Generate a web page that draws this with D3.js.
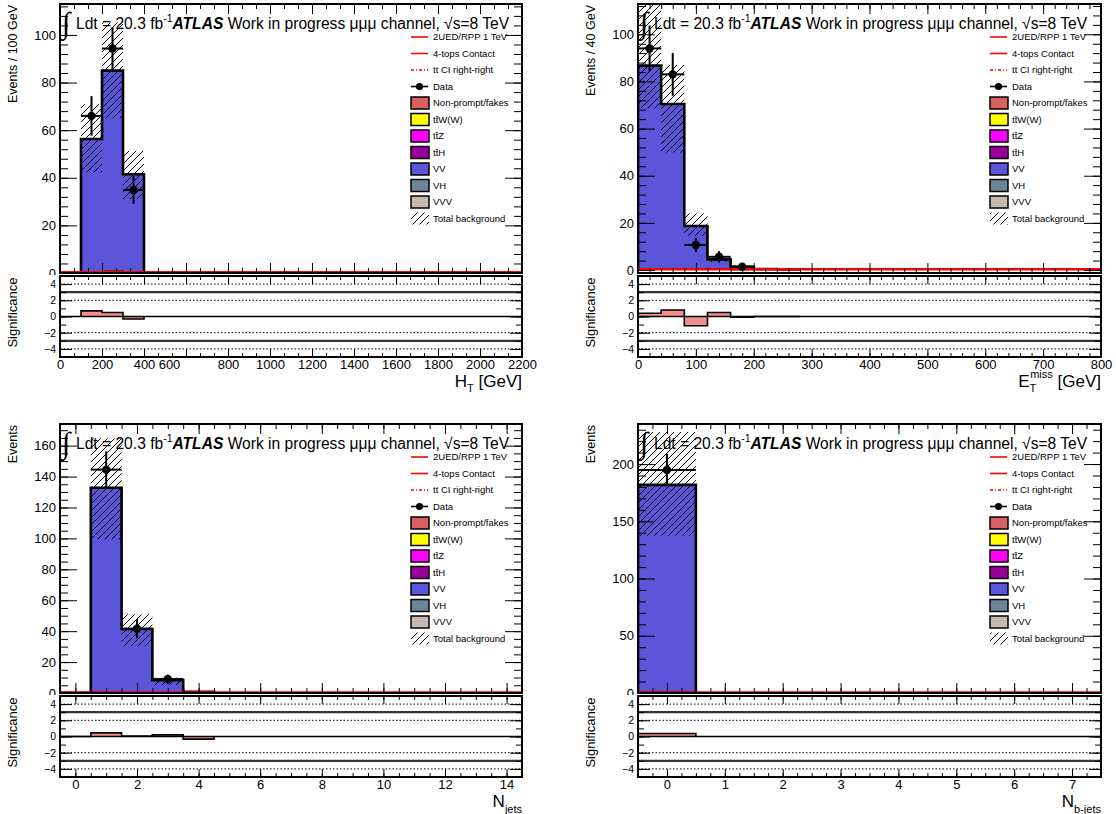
<!DOCTYPE html>
<html><head><meta charset="utf-8">
<script src="https://cdn.jsdelivr.net/npm/d3@7"></script>
<style>
body{margin:0;background:#fff}
svg{font-family:"Liberation Sans",Arial,Helvetica,sans-serif}
</style>
</head><body>
<svg id="c" width="1116" height="814"></svg>
<script>
// ---------------- DATA ----------------
// Panel 1 : H_T
const htEdges   = [100, 200, 300, 400];
const htVV      = [55.8, 83.7, 41.2];
const htFakes   = [0.5, 1.3, 0.3];
const htBandLo  = [42.3, 65, 31];
const htBandHi  = [70.9, 105.2, 51.3];
const htDataX   = [150, 250, 350];
const htData    = [66, 94.3, 34.9];
const htDataErr = [8.3, 9, 5.8];
const htSig     = [0.7, 0.5, -0.3];
const htSigEdges= [0, 2200];
const htSignal  = [0.3];
const htTicks   = [0, 200, 400, 600, 800, 1000, 1200, 1400, 1600, 1800, 2000, 2200];

// Panel 2 : E_T^miss
const metEdges   = [0, 40, 80, 120, 160, 200, 240, 280];
const metVV      = [85.8, 69.5, 18.3, 4.2, 1.2, 0.35, 0.25];
const metFakes   = [0.9, 0.9, 0.4, 0.3, 0.2, 0.1, 0.05];
const metBandLo  = [68.6, 49.8, 14.5, 3.4, 0.9, 0.2, 0.1];
const metBandHi  = [118, 87, 24, 5.6, 2, 0.7, 0.5];
const metDataX   = [20, 60, 100, 140, 180];
const metData    = [94, 83, 10.6, 5.6, 1.4];
const metDataErr = [9.7, 9.1, 3.0, 2.4, 1.2];
const metSig     = [0.4, 0.8, -1.15, 0.5, -0.1, 0, 0];
const metSigEdges= [0, 800];
const metSignal  = [0.3];
const metTicks   = [0, 100, 200, 300, 400, 500, 600, 700, 800];

// Panel 3 : N_jets
const njEdges   = [-0.5, 0.5, 1.5, 2.5, 3.5, 4.5];
const njVV      = [0.1, 131.6, 40.9, 8.0, 0.6];
const njFakes   = [0.1, 1.2, 0.5, 0.3, 0.2];
const njBandLo  = [0, 99.4, 30.4, 5.2, 0.4];
const njBandHi  = [0.3, 164.7, 50.9, 9.9, 1.5];
const njDataX   = [1, 2, 3];
const njData    = [144.5, 41.6, 9];
const njDataErr = [11.8, 6.2, 3];
const njSig     = [0, 0.45, 0.05, 0.2, -0.33];
const njSigEdges= [-0.5, 14.5];
const njSignal  = [0.3];
const njTicks   = [0, 2, 4, 6, 8, 10, 12, 14];

// Panel 4 : N_b-jets
const nbEdges   = [-0.5, 0.5];
const nbVV      = [180.3];
const nbFakes   = [1.5];
const nbBandLo  = [137.4];
const nbBandHi  = [228];
const nbDataX   = [0];
const nbData    = [194.8];
const nbDataErr = [14];
const nbSig     = [0.37];
const nbSigEdges= [-0.5, 7.5];
const nbSignal  = [0.3];
const nbTicks   = [0, 1, 2, 3, 4, 5, 6, 7];

// legend
const legendNames = ["2UED/RPP 1 TeV","4-tops Contact","tt CI right-right","Data",
  "Non-prompt/fakes","tt\u0304W(W)","tt\u0304Z","tt\u0304H","VV","VH","VVV","Total background"];
const legendKinds = ["line","line","dashdot","data","box","box","box","box","box","box","box","hatch"];
const legendColors= ["#ff0000","#ff0000","#ff0000","#000","#d9605e","#ffff00","#ff00ff","#990099","#5b55da","#6a8598","#c6b9ad","none"];
const sigTicks = [-4, -2, 0, 2, 4];

// ---------------- DRAW ----------------
const svg = d3.select("#c");
const defs = svg.append("defs");
const pat = defs.append("pattern").attr("id","hatch").attr("patternUnits","userSpaceOnUse")
  .attr("width",7).attr("height",7);
pat.append("path").attr("d","M-1,1 L1,-1 M0,7 L7,0 M6,8 L8,6")
  .attr("stroke","#000").attr("stroke-width",1);

function stepPath(edges, vals, x, y, base){
  const p = d3.path();
  p.moveTo(x(edges[0]), y(base));
  for(let i=0;i<vals.length;i++){
    p.lineTo(x(edges[i]), y(vals[i]));
    p.lineTo(x(edges[i+1]), y(vals[i]));
  }
  p.lineTo(x(edges[vals.length]), y(base));
  return p.toString();
}
// filled step band between lower and upper arrays
function bandPath(edges, lo, hi, x, y){
  const p = d3.path();
  const n = hi.length;
  p.moveTo(x(edges[0]), y(lo[0]));
  for(let i=0;i<n;i++){ p.lineTo(x(edges[i]), y(hi[i])); p.lineTo(x(edges[i+1]), y(hi[i])); }
  for(let i=n-1;i>=0;i--){ p.lineTo(x(edges[i+1]), y(lo[i])); p.lineTo(x(edges[i]), y(lo[i])); }
  p.closePath();
  return p.toString();
}

function drawPanel(c){
  const g = svg.append("g");
  const x = d3.scaleLinear().domain(c.xDomain).range([c.left, c.right]);
  const y = d3.scaleLinear().domain(c.yDomain).range([c.mBot, c.mTop]);
  const r = d3.scaleLinear().domain([-5,5]).range([c.rBot, c.rTop]);
  const cid = "clip"+c.id;
  defs.append("clipPath").attr("id",cid).append("rect")
    .attr("x",c.left).attr("y",c.mTop).attr("width",c.right-c.left).attr("height",c.mBot-c.mTop);
  const main = g.append("g").attr("clip-path",`url(#${cid})`);
  const nb = c.edges.length-1;

  // stacked layers
  let base = new Array(nb).fill(0);
  c.layers.forEach(L=>{
    const top = base.map((b,i)=>b+L.values[i]);
    main.append("path").attr("d",bandPath(c.edges, base, top, x, y)).attr("fill",L.color);
    main.append("path").attr("d",stepPath(c.edges, top, x, y, 0))
      .attr("fill","none").attr("stroke","#000").attr("stroke-width",1.2);
    base = top;
  });
  // total outline
  main.append("path").attr("d",stepPath(c.edges, base, x, y, 0))
    .attr("fill","none").attr("stroke","#000").attr("stroke-width",2.6);
  // hatch band
  for(let i=0;i<nb;i++){
    main.append("rect").attr("x",x(c.edges[i])).attr("width",x(c.edges[i+1])-x(c.edges[i]))
      .attr("y",y(c.bandHi[i])).attr("height",y(c.bandLo[i])-y(c.bandHi[i]))
      .attr("fill","url(#hatch)");
  }
  // signal line
  main.append("path").attr("d",stepPath(c.sigEdges, c.signal, x, y, c.signal[0]))
    .attr("fill","none").attr("stroke","#ff0000").attr("stroke-width",2.6);
  // data
  c.dataX.forEach((dx,i)=>{
    const bw = c.binW;
    main.append("line").attr("x1",x(dx-bw/2)).attr("x2",x(dx+bw/2))
      .attr("y1",y(c.data[i])).attr("y2",y(c.data[i])).attr("stroke","#000").attr("stroke-width",2);
    main.append("line").attr("x1",x(dx)).attr("x2",x(dx))
      .attr("y1",y(c.data[i]-c.dataErr[i])).attr("y2",y(c.data[i]+c.dataErr[i]))
      .attr("stroke","#000").attr("stroke-width",2);
    main.append("circle").attr("cx",x(dx)).attr("cy",y(c.data[i])).attr("r",4.2).attr("fill","#000");
  });

  // main axes ticks
  const tk = (sel)=>{sel.select(".domain").remove(); sel.selectAll("line").attr("stroke","#000").attr("stroke-width",1);};
  const xMinor = d3.range(c.xDomain[0], c.xDomain[1]+1e-9, c.xMinorStep).filter(v=>v>=c.xDomain[0]);
  const yMinor = d3.range(0, c.yDomain[1], c.yMinorStep);
  g.append("g").attr("transform",`translate(0,${c.mBot})`).call(d3.axisBottom(x).tickValues(xMinor).tickSize(-5).tickFormat("")).call(tk);
  g.append("g").attr("transform",`translate(0,${c.mBot})`).call(d3.axisBottom(x).tickValues(c.xTicks).tickSize(-10).tickFormat("")).call(tk);
  g.append("g").attr("transform",`translate(0,${c.mTop})`).call(d3.axisTop(x).tickValues(xMinor).tickSize(-5).tickFormat("")).call(tk);
  g.append("g").attr("transform",`translate(0,${c.mTop})`).call(d3.axisTop(x).tickValues(c.xTicks).tickSize(-10).tickFormat("")).call(tk);
  g.append("g").attr("transform",`translate(${c.left},0)`).call(d3.axisLeft(y).tickValues(yMinor).tickSize(-8).tickFormat("")).call(tk);
  g.append("g").attr("transform",`translate(${c.right},0)`).call(d3.axisRight(y).tickValues(yMinor).tickSize(-8).tickFormat("")).call(tk);
  g.append("g").attr("transform",`translate(${c.right},0)`).call(d3.axisRight(y).tickValues(c.yTicks).tickSize(-17).tickFormat("")).call(tk);
  const yl = g.append("g").attr("transform",`translate(${c.left},0)`)
    .call(d3.axisLeft(y).tickValues(c.yTicks).tickSize(-17).tickPadding(4)).call(tk);
  yl.selectAll("text").attr("font-size",13).attr("font-family","Liberation Sans, Arial").attr("fill","#000");

  // frame
  g.append("rect").attr("x",c.left).attr("y",c.mTop).attr("width",c.right-c.left).attr("height",c.mBot-c.mTop)
    .attr("fill","none").attr("stroke","#000").attr("stroke-width",2);

  // y title
  g.append("text").attr("transform",`translate(${c.left-43},${c.mTop+1}) rotate(-90)`)
    .attr("text-anchor","end").attr("font-size",12.5).text(c.yTitle);

  // header
  const hx = c.left+16, hy = c.mTop+25;
  g.append("text").attr("x",c.left+2).attr("y",c.mTop+29).attr("font-size",30)
    .attr("font-family","DejaVu Sans").attr("font-weight",200).text("\u222B");
  const ht = g.append("text").attr("x",hx).attr("y",hy).attr("font-size",15.6);
  ht.append("tspan").text("Ldt = 20.3 fb");
  ht.append("tspan").attr("font-size",10.5).attr("dy",-7).text("-1");
  ht.append("tspan").attr("dy",7).attr("font-weight","bold").attr("font-style","italic").text("ATLAS");
  ht.append("tspan").text(" Work in progress \u03BC\u03BC\u03BC channel, \u221As=8 TeV");

  // legend
  const lx = c.right-111, ltx = c.right-89;
  legendNames.forEach((nm,i)=>{
    const ly = c.mTop + 33 + i*16.5;
    const k = legendKinds[i];
    if(k==="line"){
      g.append("line").attr("x1",lx).attr("x2",lx+17).attr("y1",ly).attr("y2",ly).attr("stroke",legendColors[i]).attr("stroke-width",1.6);
    } else if(k==="dashdot"){
      g.append("line").attr("x1",lx).attr("x2",lx+17).attr("y1",ly).attr("y2",ly).attr("stroke",legendColors[i]).attr("stroke-width",1.6).attr("stroke-dasharray","3,2,1,2");
    } else if(k==="data"){
      g.append("line").attr("x1",lx).attr("x2",lx+17).attr("y1",ly).attr("y2",ly).attr("stroke","#000").attr("stroke-width",1.6);
      g.append("circle").attr("cx",lx+8.5).attr("cy",ly).attr("r",3.6).attr("fill","#000");
    } else if(k==="box"){
      g.append("rect").attr("x",lx).attr("y",ly-6).attr("width",18).attr("height",12).attr("fill",legendColors[i]).attr("stroke","#000").attr("stroke-width",1.5);
    } else {
      g.append("rect").attr("x",lx).attr("y",ly-6).attr("width",18).attr("height",12).attr("fill","url(#hatch)");
    }
    g.append("text").attr("x",ltx).attr("y",ly).attr("dy","0.35em").attr("font-size",9.5).text(nm);
  });

  // ---- significance pad ----
  const rg = svg.append("g");
  // pad background covering the lower part of the main pad's "0" label, as in the original
  rg.append("rect").attr("x",c.left-60).attr("y",c.mBot+2).attr("width",c.right-c.left+90)
    .attr("height",c.rBot-c.mBot+40).attr("fill","#fff");
  [4,2,-2,-4].forEach(v=>{
    rg.append("line").attr("x1",c.left).attr("x2",c.right).attr("y1",r(v)).attr("y2",r(v))
      .attr("stroke","#000").attr("stroke-width",1).attr("stroke-dasharray","1.5,2");
  });
  [3,-3].forEach(v=>{
    rg.append("line").attr("x1",c.left).attr("x2",c.right).attr("y1",r(v)).attr("y2",r(v))
      .attr("stroke","#333").attr("stroke-width",2.2);
  });
  const se = c.edges;
  for(let i=0;i<c.sig.length;i++){
    const v = c.sig[i];
    if(v===0) continue;
    rg.append("rect").attr("x",x(se[i])).attr("width",x(se[i+1])-x(se[i]))
      .attr("y",r(Math.max(0,v))).attr("height",Math.abs(r(v)-r(0)))
      .attr("fill","#f4908c");
  }
  rg.append("line").attr("x1",c.left).attr("x2",c.right).attr("y1",r(0)).attr("y2",r(0))
    .attr("stroke","#000").attr("stroke-width",1.6);
  rg.append("path").attr("d",stepPath(se, c.sig, x, r, 0))
    .attr("fill","none").attr("stroke","#000").attr("stroke-width",1.6);
  // ticks
  const rMinor = d3.range(-5,5.01,1);
  rg.append("g").attr("transform",`translate(${c.left},0)`).call(d3.axisLeft(r).tickValues(rMinor).tickSize(-6).tickFormat("")).call(tk);
  rg.append("g").attr("transform",`translate(${c.right},0)`).call(d3.axisRight(r).tickValues(rMinor).tickSize(-6).tickFormat("")).call(tk);
  rg.append("g").attr("transform",`translate(${c.right},0)`).call(d3.axisRight(r).tickValues(sigTicks).tickSize(-12).tickFormat("")).call(tk);
  const rl = rg.append("g").attr("transform",`translate(${c.left},0)`)
    .call(d3.axisLeft(r).tickValues(sigTicks).tickSize(-12).tickPadding(4)).call(tk);
  rl.selectAll("text").attr("font-size",10.5).attr("font-family","Liberation Sans, Arial").attr("fill","#000");
  rg.append("g").attr("transform",`translate(0,${c.rBot})`).call(d3.axisBottom(x).tickValues(xMinor).tickSize(-4).tickFormat("")).call(tk);
  rg.append("g").attr("transform",`translate(0,${c.rTop})`).call(d3.axisTop(x).tickValues(xMinor).tickSize(-4).tickFormat("")).call(tk);
  rg.append("g").attr("transform",`translate(0,${c.rTop})`).call(d3.axisTop(x).tickValues(c.xTicks).tickSize(-8).tickFormat("")).call(tk);
  const xl = rg.append("g").attr("transform",`translate(0,${c.rBot})`)
    .call(d3.axisBottom(x).tickValues(c.xTicks).tickSize(-8).tickPadding(3).tickFormat(d3.format("d"))).call(tk);
  xl.selectAll("text").attr("font-size",13).attr("font-family","Liberation Sans, Arial").attr("fill","#000");
  if(c.labelShift){
    xl.selectAll("text").filter(d=>c.labelShift[d]!==undefined).attr("dx",d=>c.labelShift[d]);
  }
  rg.append("rect").attr("x",c.left).attr("y",c.rTop).attr("width",c.right-c.left).attr("height",c.rBot-c.rTop)
    .attr("fill","none").attr("stroke","#000").attr("stroke-width",2);
  rg.append("text").attr("transform",`translate(${c.left-43},${(c.rTop+c.rBot)/2-4}) rotate(-90)`)
    .attr("text-anchor","middle").attr("font-size",13).text("Significance");

  // x title
  const xt = rg.append("text").attr("x",c.right).attr("y",c.rBot+30).attr("text-anchor","end").attr("font-size",17);
  c.xTitle(xt);
}

const top1 = {mTop:4, mBot:273, rTop:276, rBot:357};
const bot1 = {mTop:424, mBot:693, rTop:696, rBot:777};
const L = {left:60, right:522}, R = {left:638, right:1101};

function layers(fakes, vv){ return [{color:"#d9605e", values:fakes},{color:"#5b55da", values:vv}]; }

drawPanel(Object.assign({id:1}, L, top1, {
  xDomain:[0,2200], yDomain:[0,113], edges:htEdges, layers:layers(htFakes,htVV),
  bandLo:htBandLo, bandHi:htBandHi, dataX:htDataX, data:htData, dataErr:htDataErr, binW:100,
  sig:htSig, sigEdges:htSigEdges, signal:htSignal, xTicks:htTicks, xMinorStep:200/3,
  yTicks:[0,20,40,60,80,100], yMinorStep:4, yTitle:"Events / 100 GeV", labelShift:{600:-17},
  xTitle:t=>{t.append("tspan").text("H"); t.append("tspan").attr("font-size",11).attr("dy",5).text("T");
             t.append("tspan").attr("dy",-5).text(" [GeV]");}
}));
drawPanel(Object.assign({id:2}, R, top1, {
  xDomain:[0,800], yDomain:[-1.27,112.85], edges:metEdges, layers:layers(metFakes,metVV),
  bandLo:metBandLo, bandHi:metBandHi, dataX:metDataX, data:metData, dataErr:metDataErr, binW:40,
  sig:metSig, sigEdges:metSigEdges, signal:metSignal, xTicks:metTicks, xMinorStep:20,
  yTicks:[0,20,40,60,80,100], yMinorStep:4, yTitle:"Events / 40 GeV",
  xTitle:t=>{t.append("tspan").text("E"); t.append("tspan").attr("font-size",11).attr("dy",5).text("T");
             t.append("tspan").attr("font-size",11).attr("dx",-6).attr("dy",-14).text("miss");
             t.append("tspan").attr("dy",9).text(" [GeV]");}
}));
drawPanel(Object.assign({id:3}, L, bot1, {
  xDomain:[-0.5,14.5], yDomain:[0,174], edges:njEdges, layers:layers(njFakes,njVV),
  bandLo:njBandLo, bandHi:njBandHi, dataX:njDataX, data:njData, dataErr:njDataErr, binW:1,
  sig:njSig, sigEdges:njSigEdges, signal:njSignal, xTicks:njTicks, xMinorStep:0.5,
  yTicks:[0,20,40,60,80,100,120,140,160], yMinorStep:5, yTitle:"Events",
  xTitle:t=>{t.append("tspan").text("N"); t.append("tspan").attr("font-size",11).attr("dy",6).text("jets");}
}));
drawPanel(Object.assign({id:4}, R, bot1, {
  xDomain:[-0.5,7.5], yDomain:[0,235], edges:nbEdges, layers:layers(nbFakes,nbVV),
  bandLo:nbBandLo, bandHi:nbBandHi, dataX:nbDataX, data:nbData, dataErr:nbDataErr, binW:1,
  sig:nbSig, sigEdges:nbSigEdges, signal:nbSignal, xTicks:nbTicks, xMinorStep:0.25,
  yTicks:[0,50,100,150,200], yMinorStep:10, yTitle:"Events",
  xTitle:t=>{t.append("tspan").text("N"); t.append("tspan").attr("font-size",11).attr("dy",6).text("b-jets");}
}));
</script>
</body></html>
